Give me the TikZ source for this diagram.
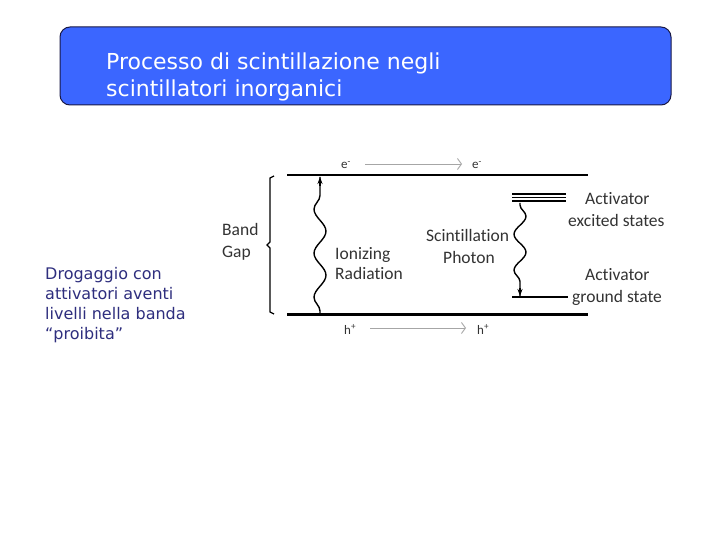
\documentclass[tikz,border=0pt]{standalone}
\usepackage{fontspec}
\setmainfont{DejaVu Sans}
\newfontfamily\diagfont[Ligatures=NoCommon]{Carlito}
\usetikzlibrary{arrows.meta,decorations.pathmorphing}
\definecolor{titleblue}{RGB}{59,102,255}
\definecolor{titleedge}{RGB}{25,25,70}
\definecolor{navytext}{RGB}{46,46,126}
\tikzset{
  titletext/.style={anchor=base west,inner sep=0pt,text=white,font=\fontsize{22}{26}\selectfont},
  sidetext/.style={anchor=base west,inner sep=0pt,text=navytext,font=\fontsize{16}{20}\selectfont},
  dtext/.style={anchor=base west,inner sep=0pt,text=black!80,font=\diagfont\fontsize{17.5}{20}\selectfont},
  smalltext/.style={anchor=base west,inner sep=0pt,text=black!80,font=\diagfont\fontsize{13}{15}\selectfont},
  band/.style={line width=1.2pt,black},
  flow/.style={gray!70,line width=0.9pt,-{Straight Barb[length=4pt,width=11pt]}},
  wave/.style={line width=1.4pt,decorate,decoration={snake,amplitude=6pt,segment length=#1,pre length=2pt,post length=5pt}},
}
\begin{document}
\begin{tikzpicture}[x=1pt,y=-1pt]
\useasboundingbox (0,0) rectangle (720,540);
\fill[white] (0,0) rectangle (720,540);
% title box
\node[draw=titleedge,fill=titleblue,rounded corners=10pt,line width=1pt,minimum width=611pt,minimum height=78pt,inner sep=0pt] (title) at (365.5,66) {};
\node[titletext] (t1) at (106,70) {Processo di scintillazione negli};
\node[titletext] (t2) at (106,97) {scintillatori inorganici};
% side text
\node[sidetext] (s1) at (45,279) {Drogaggio con};
\node[sidetext] (s2) at (45,299) {attivatori aventi};
\node[sidetext] (s3) at (45,319) {livelli nella banda};
\node[sidetext] (s4) at (45,339) {“proibita”};
% bands
\coordinate (cbL) at (287,175);
\coordinate (cbR) at (588,175);
\coordinate (vbL) at (287,314);
\coordinate (vbR) at (588,314);
\draw[band] (cbL) -- (cbR);
\draw[line width=3pt] (vbL) -- (vbR);
% carriers
\node[smalltext] (e1) at (341,169) {e\textsuperscript{-}};
\node[smalltext] (e2) at (472,169) {e\textsuperscript{-}};
\coordinate (ea) at (365,164);
\coordinate (eb) at (462,164);
\draw[flow] (ea) -- (eb);
\node[smalltext] (h1) at (344,334) {h\textsuperscript{+}};
\node[smalltext] (h2) at (477,334) {h\textsuperscript{+}};
\coordinate (ha) at (370,328);
\coordinate (hb) at (466,328);
\draw[flow] (ha) -- (hb);
% brace
\draw[line width=1.2pt] (274,176) -- (270,178) -- (270,242) -- (267,245) -- (270,248) -- (270,312) -- (274,314);
\node[dtext] (bg1) at (222,236) {Band};
\node[dtext] (bg2) at (222,258) {Gap};
% ionizing wave
\coordinate (iw0) at (320,313);
\coordinate (iw1) at (320,177);
\draw[wave=44pt] (iw0) -- (iw1);
\draw[-{Stealth[length=7pt,width=5pt]},line width=1.3pt] (320,186) -- (iw1);
\node[dtext] (ir1) at (335,259) {Ionizing};
\node[dtext] (ir2) at (335,279) {Radiation};
% activator levels
\draw[line width=1.2pt] (512,194) -- (566,194);
\draw[line width=1.2pt] (512,197.5) -- (566,197.5);
\draw[line width=2pt] (512,201.5) -- (566,201.5);
\coordinate (ex) at (520,203);
\coordinate (gs) at (520,296);
\draw[line width=1.2pt] (512,297) -- (568,297);
\draw[wave=36pt] (ex) -- (gs);
\draw[-{Stealth[length=7pt,width=5pt]},line width=1.3pt] (520,288) -- (gs);
\node[dtext] (sp1) at (426,241) {Scintillation};
\node[dtext] (sp2) at (443,263) {Photon};
\node[dtext] (ae1) at (585,205) {Activator};
\node[dtext] (ae2) at (568,226) {excited states};
\node[dtext] (ag1) at (585,280) {Activator};
\node[dtext] (ag2) at (572,302) {ground state};
\end{tikzpicture}
\end{document}
